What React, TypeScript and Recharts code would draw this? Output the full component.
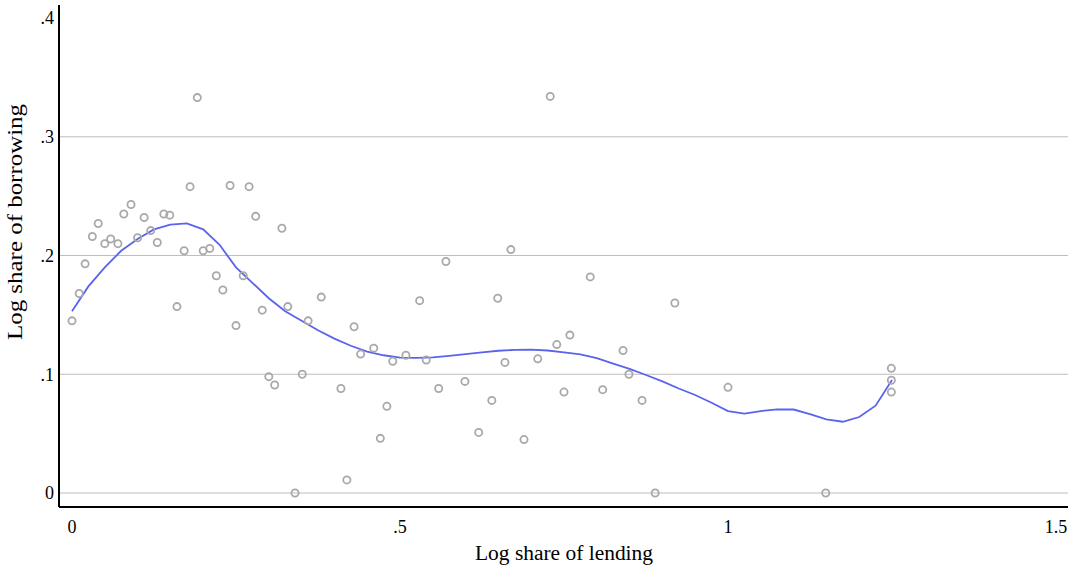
import { ComposedChart, Line, ReferenceLine, Scatter, XAxis, YAxis } from "recharts";

// country-level points: log share of lending vs log share of borrowing
const LENDING = [
  0, 0.011, 0.02, 0.031, 0.04, 0.05, 0.059, 0.07, 0.079, 0.09, 0.1, 0.11, 0.12, 0.13, 0.14, 0.149,
  0.16, 0.171, 0.18, 0.191, 0.2, 0.21, 0.22, 0.23, 0.241, 0.25, 0.261, 0.27, 0.28, 0.29, 0.3, 0.309,
  0.32, 0.329, 0.34, 0.351, 0.36, 0.38, 0.41, 0.419, 0.43, 0.44, 0.46, 0.47, 0.48, 0.489, 0.509,
  0.53, 0.54, 0.559, 0.57, 0.599, 0.62, 0.64, 0.649, 0.66, 0.669, 0.689, 0.71, 0.729, 0.739, 0.75,
  0.759, 0.79, 0.809, 0.84, 0.849, 0.869, 0.889, 0.919, 1.0, 1.149, 1.249, 1.249, 1.249
];
const BORROWING = [
  0.145, 0.168, 0.193, 0.216, 0.227, 0.21, 0.214, 0.21, 0.235, 0.243, 0.215, 0.232, 0.221, 0.211,
  0.235, 0.234, 0.157, 0.204, 0.258, 0.333, 0.204, 0.206, 0.183, 0.171, 0.259, 0.141, 0.183, 0.258,
  0.233, 0.154, 0.098, 0.091, 0.223, 0.157, 0.0, 0.1, 0.145, 0.165, 0.088, 0.011, 0.14, 0.117,
  0.122, 0.046, 0.073, 0.111, 0.116, 0.162, 0.112, 0.088, 0.195, 0.094, 0.051, 0.078, 0.164,
  0.11, 0.205, 0.045, 0.113, 0.334, 0.125, 0.085, 0.133, 0.182, 0.087, 0.12, 0.1, 0.078, 0.0,
  0.16, 0.089, 0.0, 0.105, 0.095, 0.085
];

// lowess fit, evaluated every 0.025
const FIT_Y = [
  0.153, 0.174, 0.19, 0.204, 0.214, 0.222, 0.226, 0.227, 0.222, 0.209, 0.19, 0.177, 0.164, 0.153,
  0.145, 0.137, 0.13, 0.124, 0.119, 0.116, 0.114, 0.1138, 0.1142, 0.1155, 0.117, 0.1185, 0.1198,
  0.1205, 0.1207, 0.12, 0.1185, 0.1167, 0.1135, 0.109, 0.1045, 0.0994, 0.094, 0.088, 0.0825,
  0.076, 0.069, 0.0668, 0.069, 0.0705, 0.0703, 0.0665, 0.062, 0.06, 0.064, 0.0735, 0.0952
];
const FIT_STEP = 0.025;

const X_TICKS = [0, 0.5, 1, 1.5];
const Y_TICKS = [0, 0.1, 0.2, 0.3, 0.4];
const GRID_Y = [0, 0.1, 0.2, 0.3];

const fmt = (v: number) => (v === 0 ? "0" : String(v).replace(/^0\./, "."));

const points = LENDING.map((x, i) => ({ x, y: BORROWING[i] }));
const fit = FIT_Y.map((y, i) => ({ x: i * FIT_STEP, y }));

const FONT = "'Liberation Serif', serif";

const Ring = (p: any) => (
  <circle cx={p.cx} cy={p.cy} r={3.6} fill="none" stroke="#a9a9a9" strokeWidth={1.8} />
);

export default function App() {
  return (
    <div style={{ position: "absolute", left: 0, top: 0, background: "#fff" }}>
      <ComposedChart
        width={1075}
        height={565}
        margin={{ top: 5, right: 7, bottom: 28, left: 0 }}
        style={{ fontFamily: FONT }}
      >
        {GRID_Y.map((v) => (
          <ReferenceLine key={v} y={v} stroke="#bdbdbd" strokeWidth={1} ifOverflow="extendDomain" />
        ))}
        <XAxis
          dataKey="x"
          type="number"
          height={30}
          domain={[-0.0198, 1.5183]}
          allowDataOverflow
          ticks={X_TICKS}
          tickFormatter={fmt}
          tickLine={false}
          tickSize={0}
          tickMargin={13}
          axisLine={{ stroke: "#000", strokeWidth: 2 }}
          tick={{ fill: "#000", fontSize: 18, fontFamily: FONT }}
          label={{
            content: () => (
              <text
                x={564}
                y={560}
                textAnchor="middle"
                fontSize={20}
                fontFamily={FONT}
                fill="#000"
                textLength={178}
                lengthAdjust="spacingAndGlyphs"
              >
                Log share of lending
              </text>
            )
          }}
        />
        <YAxis
          dataKey="y"
          type="number"
          width={59}
          domain={[-0.0118, 0.411]}
          allowDataOverflow
          ticks={Y_TICKS}
          tickFormatter={fmt}
          tickLine={false}
          tickSize={0}
          tickMargin={5}
          axisLine={{ stroke: "#000", strokeWidth: 2 }}
          tick={{ fill: "#000", fontSize: 18, fontFamily: FONT }}
          label={{
            content: () => (
              <text
                x={22}
                y={222}
                transform="rotate(-90 22 222)"
                textAnchor="middle"
                fontSize={21}
                fontFamily={FONT}
                fill="#000"
                textLength={236}
                lengthAdjust="spacingAndGlyphs"
              >
                Log share of borrowing
              </text>
            )
          }}
        />
        <Scatter data={points} dataKey="y" shape={Ring} isAnimationActive={false} />
        <Line
          data={fit}
          dataKey="y"
          type="linear"
          stroke="#5b63ee"
          strokeWidth={1.8}
          dot={false}
          activeDot={false}
          isAnimationActive={false}
        />
      </ComposedChart>
    </div>
  );
}
